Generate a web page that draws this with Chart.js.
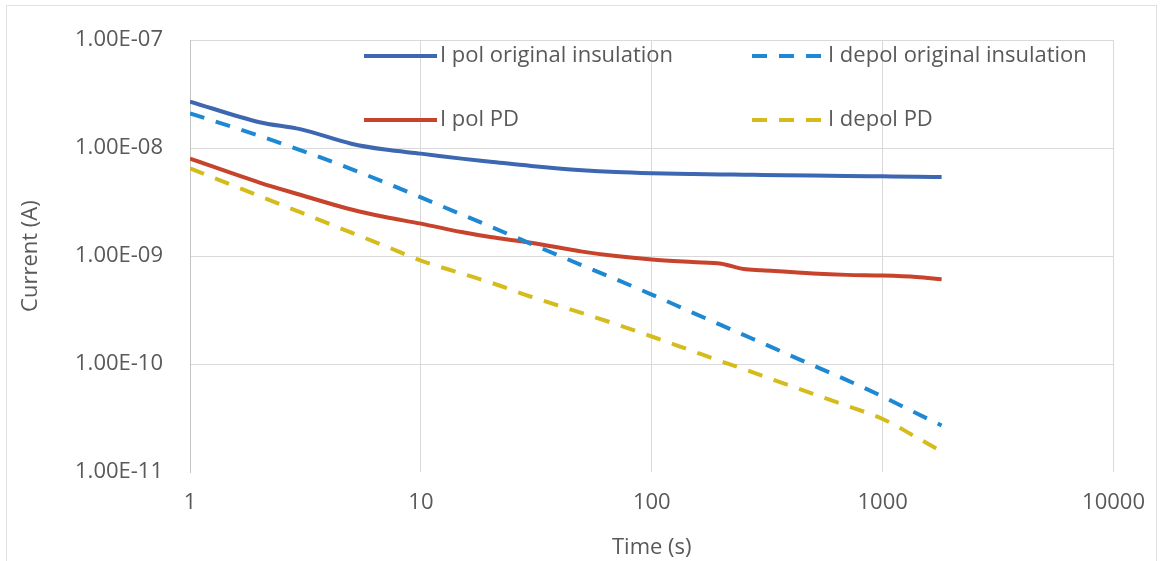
<!DOCTYPE html>
<html>
<head>
<meta charset="utf-8">
<title>Polarisation / depolarisation current</title>
<script src="https://cdn.jsdelivr.net/npm/chart.js@4.4.1/dist/chart.umd.min.js"></script>
<style>
  html, body { margin: 0; padding: 0; background: #fff; }
  #wrap { width: 1163px; height: 561px; position: relative; }
</style>
</head>
<body>
<div id="wrap"><canvas id="currentChart"></canvas></div>
<script>
  // time axis (s) shared by all four curves
  const TIMES = [1, 2, 3, 5, 7, 10, 15, 20, 30, 50, 70, 100, 150, 200, 250, 300, 500, 700, 1000, 1400, 1800];

  // currents (A)
  const I_POL_ORIG = [2.7e-8, 1.74e-8, 1.5e-8, 1.1e-8, 9.7e-9, 8.9e-9, 8.0e-9, 7.5e-9, 6.85e-9, 6.25e-9, 6.0e-9, 5.85e-9, 5.75e-9, 5.7e-9, 5.68e-9, 5.65e-9, 5.58e-9, 5.52e-9, 5.48e-9, 5.44e-9, 5.4e-9];
  const I_DEPOL_ORIG = [2.1e-8, 1.3e-8, 9.6e-9, 6.4e-9, 4.8e-9, 3.5e-9, 2.43e-9, 1.88e-9, 1.3e-9, 8.2e-10, 6.1e-10, 4.4e-10, 3.0e-10, 2.29e-10, 1.86e-10, 1.57e-10, 9.7e-11, 7.1e-11, 5.0e-11, 3.5e-11, 2.7e-11];
  const I_POL_PD = [8.0e-9, 4.8e-9, 3.7e-9, 2.7e-9, 2.3e-9, 2.0e-9, 1.67e-9, 1.5e-9, 1.33e-9, 1.1e-9, 1.0e-9, 9.3e-10, 8.8e-10, 8.5e-10, 7.6e-10, 7.4e-10, 6.9e-10, 6.7e-10, 6.6e-10, 6.4e-10, 6.1e-10];
  const I_DEPOL_PD = [6.5e-9, 3.6e-9, 2.55e-9, 1.65e-9, 1.24e-9, 9.1e-10, 6.9e-10, 5.7e-10, 4.2e-10, 2.96e-10, 2.34e-10, 1.8e-10, 1.32e-10, 1.06e-10, 9.0e-11, 7.8e-11, 5.3e-11, 4.1e-11, 3.1e-11, 2.1e-11, 1.55e-11];

  const SERIES_LABELS = [
    "I pol original insulation",
    "I depol original insulation",
    "I pol PD",
    "I depol PD"
  ];

  const X_TICKS = [1, 10, 100, 1000, 10000];
  const X_TICK_LABELS = ["1", "10", "100", "1000", "10000"];
  const Y_TICKS = [1e-11, 1e-10, 1e-9, 1e-8, 1e-7];
  const Y_TICK_LABELS = ["1.00E-11", "1.00E-10", "1.00E-09", "1.00E-08", "1.00E-07"];

  const FONT = "'Open Sans', Lato, sans-serif";
  const FONT_SIZE = 22;
  const TEXT = "#595959";
  const GRID = "#d9d9d9";

  /* ---------- HELPERS ---------- */

  function points(values) {
    return TIMES.map((t, i) => ({ x: t, y: values[i] }));
  }

  function series(label, values, color, dashed) {
    return {
      label,
      data: points(values),
      borderColor: color,
      backgroundColor: color,
      borderWidth: 4,
      borderDash: dashed ? [15, 12] : [],
      borderCapStyle: "butt",
      pointRadius: 0,
      cubicInterpolationMode: "monotone",
      fill: false
    };
  }

  // legend sits inside the plot, two columns by two rows
  const legendSlots = [
    { x: 364, y: 56 },
    { x: 752, y: 56 },
    { x: 364, y: 120 },
    { x: 752, y: 120 }
  ];

  const insideLegend = {
    id: "insideLegend",
    afterDatasetsDraw(chart) {
      const ctx = chart.ctx;
      ctx.save();
      chart.data.datasets.forEach((ds, i) => {
        const s = legendSlots[i];
        ctx.beginPath();
        ctx.setLineDash(ds.borderDash);
        ctx.lineWidth = ds.borderWidth;
        ctx.strokeStyle = ds.borderColor;
        ctx.moveTo(s.x, s.y);
        ctx.lineTo(s.x + 73, s.y);
        ctx.stroke();
        ctx.setLineDash([]);
        ctx.fillStyle = TEXT;
        ctx.font = FONT_SIZE + "px " + FONT;
        ctx.textBaseline = "middle";
        ctx.fillText(ds.label, s.x + 76, s.y);
      });
      ctx.restore();
    }
  };

  const frame = {
    id: "frame",
    beforeDraw(chart) {
      const ctx = chart.ctx;
      ctx.save();
      ctx.fillStyle = "#fff";
      ctx.fillRect(0, 0, chart.width, chart.height);
      ctx.strokeStyle = "#e2e2e2";
      ctx.lineWidth = 1;
      ctx.strokeRect(6.5, 5.5, chart.width - 13, chart.height + 10);
      ctx.restore();
    }
  };

  /* ---------- CHART ---------- */

  const datasets = [
    series(SERIES_LABELS[0], I_POL_ORIG, "#3d67b1", false),
    series(SERIES_LABELS[1], I_DEPOL_ORIG, "#1f88d2", true),
    series(SERIES_LABELS[2], I_POL_PD, "#c8432b", false),
    series(SERIES_LABELS[3], I_DEPOL_PD, "#d6bb1c", true)
  ];

  new Chart(document.getElementById("currentChart"), {
    type: "line",
    data: { datasets },
    plugins: [frame, insideLegend],
    options: {
      responsive: true,
      maintainAspectRatio: false,
      animation: false,
      layout: { padding: { left: 0, right: 48, top: 25, bottom: 0 } },
      plugins: {
        legend: { display: false },
        tooltip: { enabled: false }
      },
      scales: {
        x: {
          type: "logarithmic",
          min: 1,
          max: 10000,
          afterBuildTicks: s => { s.ticks = X_TICKS.map(v => ({ value: v })); },
          afterFit: s => { s.height = 89; },
          grid: { color: GRID, drawTicks: false },
          border: { display: false },
          ticks: {
            autoSkip: false,
            maxRotation: 0,
            padding: 18,
            color: TEXT,
            font: { family: FONT, size: FONT_SIZE },
            callback: v => X_TICK_LABELS[X_TICKS.indexOf(v)]
          },
          title: {
            display: true,
            text: "Time (s)",
            color: TEXT,
            font: { family: FONT, size: FONT_SIZE },
            padding: { top: 0, bottom: 0 }
          }
        },
        y: {
          type: "logarithmic",
          min: 1e-11,
          max: 1e-7,
          afterBuildTicks: s => { s.ticks = Y_TICKS.map(v => ({ value: v })); },
          afterFit: s => { s.width = 190; },
          grid: {
            drawTicks: false,
            color: c => (c.tick && c.tick.value === Y_TICKS[0] ? "rgba(0,0,0,0)" : GRID)
          },
          border: { display: true, color: "#c4c4c4" },
          ticks: {
            autoSkip: false,
            padding: 27,
            color: TEXT,
            font: { family: FONT, size: FONT_SIZE },
            callback: v => Y_TICK_LABELS[Y_TICKS.indexOf(v)]
          },
          title: {
            display: true,
            text: "Current (A)",
            color: TEXT,
            font: { family: FONT, size: FONT_SIZE },
            padding: { top: 18, bottom: 0 }
          }
        }
      }
    }
  });
</script>
</body>
</html>
